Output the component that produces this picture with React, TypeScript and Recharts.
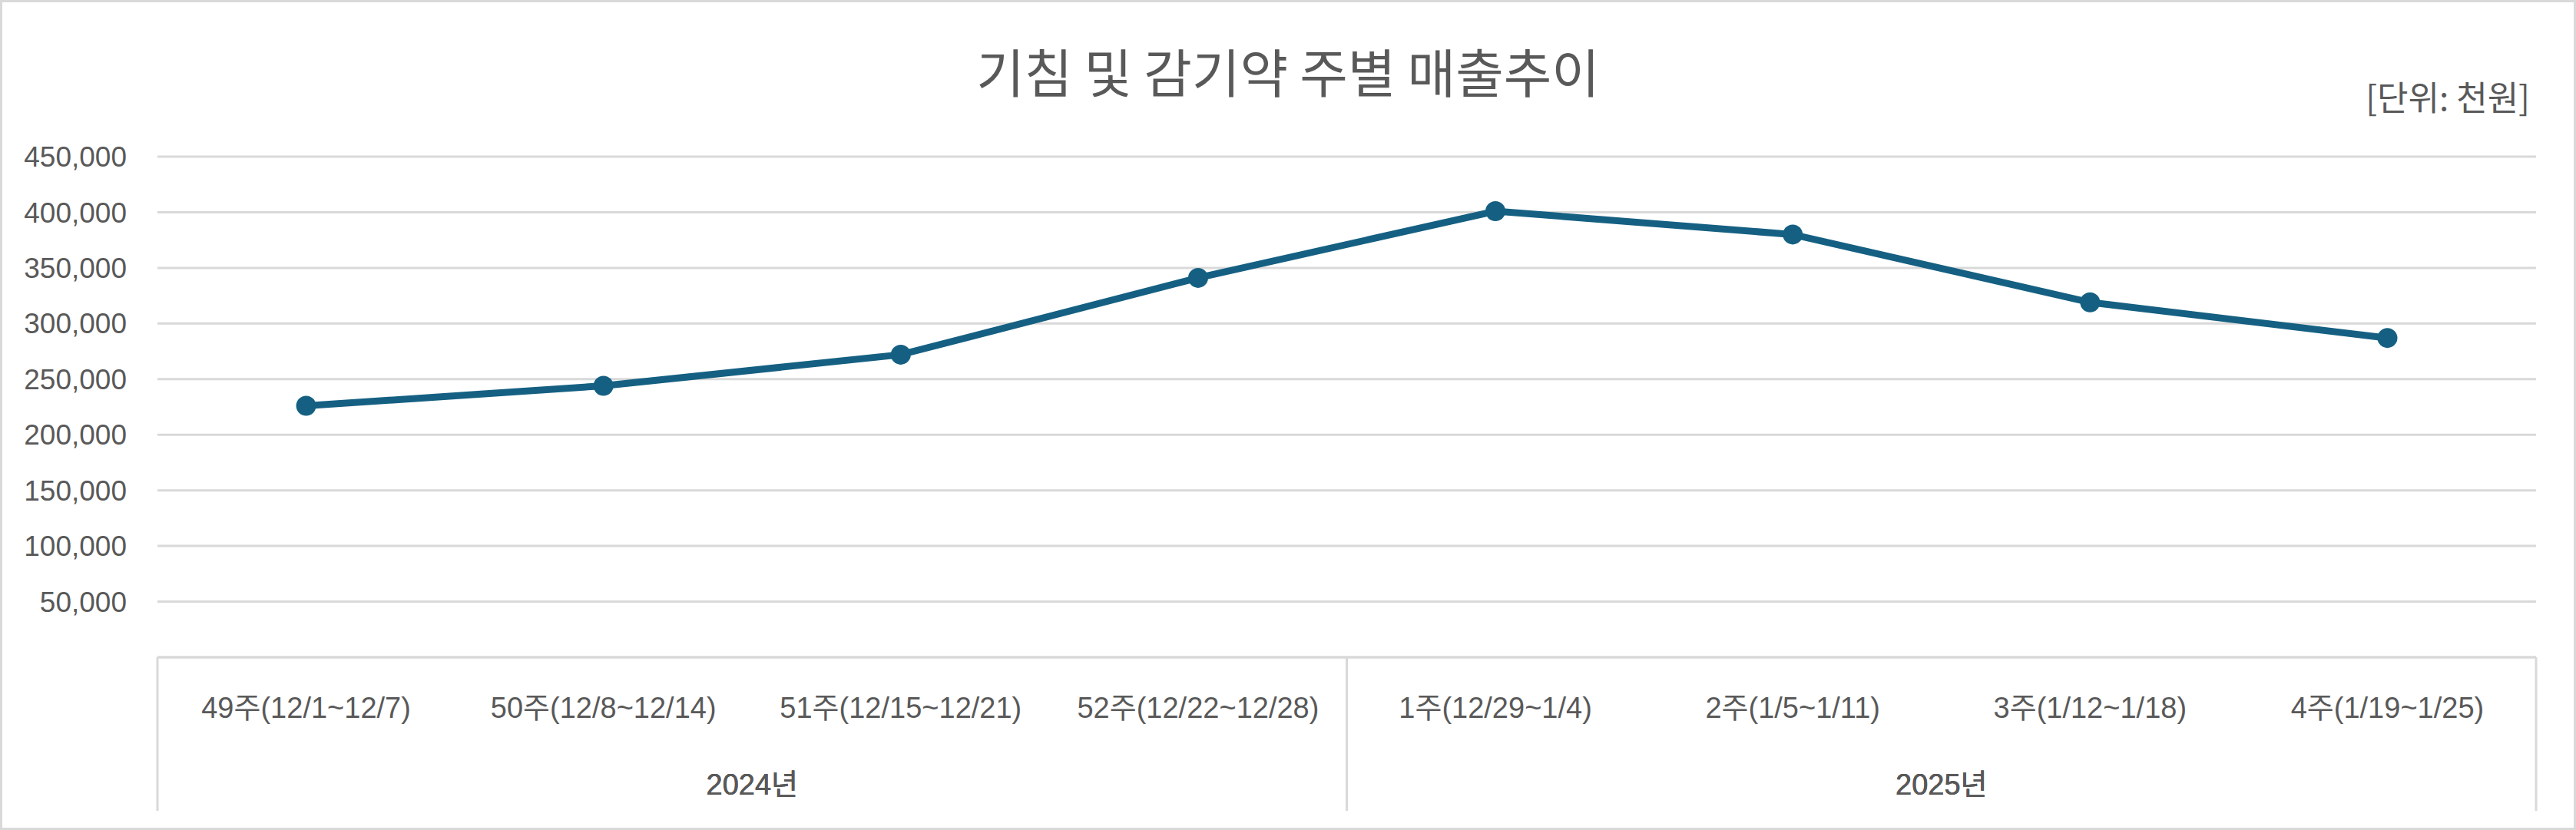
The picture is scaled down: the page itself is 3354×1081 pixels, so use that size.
import React from "react";
import { LineChart, Line, XAxis, YAxis, CartesianGrid } from "recharts";

const weeks = [
  "49주(12/1~12/7)",
  "50주(12/8~12/14)",
  "51주(12/15~12/21)",
  "52주(12/22~12/28)",
  "1주(12/29~1/4)",
  "2주(1/5~1/11)",
  "3주(1/12~1/18)",
  "4주(1/19~1/25)",
];
const years = ["2024년", "2024년", "2024년", "2024년", "2025년", "2025년", "2025년", "2025년"];
const sales = [226000, 244000, 272000, 341000, 401000, 380000, 319000, 287000];
const yTicks = [0, 50000, 100000, 150000, 200000, 250000, 300000, 350000, 400000, 450000];

const data = weeks.map((w, i) => ({ week: w, year: years[i], sales: sales[i] }));

const TEXT = "#595959";
const GRID = "#d9d9d9";
const LINE = "#156082";
const FONT = "'Liberation Sans', 'Noto Sans CJK KR', sans-serif";

function WeekTick(props: any) {
  const { x, y, payload, index } = props;
  const off = payload?.offset ?? 0;
  const last = index === weeks.length - 1;
  const groupStart = index === 0 || years[index] !== years[index - 1];
  return (
    <g>
      {groupStart && (
        <line x1={x - off} y1={y} x2={x - off} y2={y + 200} stroke={GRID} strokeWidth={3} />
      )}
      {last && (
        <line x1={x + off} y1={y} x2={x + off} y2={y + 200} stroke={GRID} strokeWidth={3} />
      )}
      <text x={x} y={y} dy={79} textAnchor="middle" fill={TEXT} fontSize={38} fontFamily={FONT}>
        {payload.value}
      </text>
    </g>
  );
}

function YearTick(props: any) {
  const { x, y, payload } = props;
  return (
    <text x={x} y={y} dy={49} textAnchor="middle" fill={TEXT} fontSize={38} fontFamily={FONT}>
      {payload.value}
    </text>
  );
}

export default function App() {
  return (
    <div style={{ position: "relative", width: 3354, height: 1081, background: "#fff" }}>
      <style>{"body{margin:0}"}</style>
      <div
        style={{
          position: "absolute",
          left: 0,
          top: 0,
          width: 3354,
          height: 1081,
          border: `3px solid ${GRID}`,
          boxSizing: "border-box",
          pointerEvents: "none",
        }}
      />
      <div
        style={{
          position: "absolute",
          left: 0,
          width: 3354,
          top: 50,
          textAlign: "center",
          fontSize: 68,
          lineHeight: "84px",
          color: TEXT,
          fontFamily: "'Noto Sans CJK KR', sans-serif",
        }}
      >
        기침 및 감기약 주별 매출추이
      </div>
      <div
        style={{
          position: "absolute",
          right: 3354 - 3294,
          top: 97,
          fontSize: 44,
          lineHeight: "56px",
          color: TEXT,
          fontFamily: "'Noto Sans CJK KR', sans-serif",
        }}
      >
        [단위: 천원]
      </div>
      <LineChart
        width={3354}
        height={1081}
        data={data}
        margin={{ top: 204, right: 52, bottom: 0, left: 0 }}
      >
        <CartesianGrid vertical={false} stroke={GRID} strokeWidth={3} />
        <XAxis
          dataKey="week"
          scale="band"
          height={130}
          axisLine={{ stroke: GRID, strokeWidth: 3 }}
          tickLine={false}
          tickSize={0}
          tickMargin={0}
          interval={0}
          tick={<WeekTick />}
        />
        <XAxis
          xAxisId="year"
          dataKey="year"
          scale="band"
          allowDuplicatedCategory={false}
          height={95}
          axisLine={false}
          tickLine={false}
          tickSize={0}
          tickMargin={0}
          interval={0}
          tick={<YearTick />}
        />
        <YAxis
          width={205}
          domain={[0, 450000]}
          ticks={yTicks}
          interval={0}
          axisLine={false}
          tickLine={false}
          tickMargin={34}
          tick={{ fill: TEXT, fontSize: 37, fontFamily: FONT }}
          tickFormatter={(v: number) => (v === 0 ? "" : v.toLocaleString("en-US"))}
        />
        <Line
          type="linear"
          dataKey="sales"
          stroke={LINE}
          strokeWidth={9}
          dot={{ r: 13, fill: LINE, stroke: LINE, strokeWidth: 0 }}
          activeDot={false}
          isAnimationActive={false}
        />
      </LineChart>
    </div>
  );
}
